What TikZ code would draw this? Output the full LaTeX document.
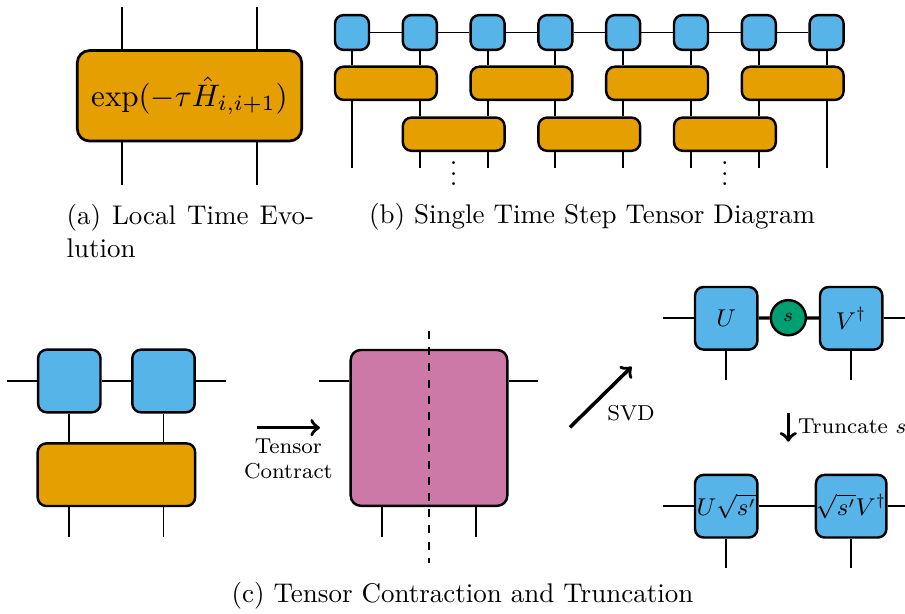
\documentclass[tikz,border=0pt]{standalone}
\usepackage{graphicx}
\usepackage{amsmath}
\definecolor{okorange}{HTML}{E69F00}
\definecolor{okblue}{HTML}{56B4E9}
\definecolor{okgreen}{HTML}{009E73}
\definecolor{okpink}{HTML}{CC79A7}
\begin{document}
\begin{tikzpicture}[x=0.3704pt, y=-0.3704pt,
  leg/.style={line width=0.7pt},
  bond/.style={line width=1.2pt},
  arr/.style={->, line width=1.3pt},
  site/.style={draw, line width=0.9pt, fill=okblue, rounded corners=3.2pt, inner sep=0pt, minimum width=12.6pt, minimum height=12.9pt},
  gate/.style={draw, line width=0.9pt, fill=okorange, rounded corners=3.2pt, inner sep=0pt, minimum width=37.7pt, minimum height=12.3pt},
  bigsite/.style={site, minimum width=23.1pt, minimum height=23.2pt, font=\small},
  lbl/.style={inner sep=0pt}]
\useasboundingbox (0,0) rectangle (905,614);

% (a) two-site gate
\node[draw, line width=1pt, fill=okorange, rounded corners=4.5pt, inner sep=0pt, minimum width=83.1pt, minimum height=33.5pt] (a0) at (189.5,95.8) {\scalebox{1.15}{$\exp(-\tau\hat{H}_{i,i+1})$}};
\coordinate (a1) at (122.3,7);
\coordinate (a2) at (256.7,7);
\coordinate (a3) at (122.3,185);
\coordinate (a4) at (256.7,185);
\draw[line width=0.8pt] (a1) -- (a1 |- a0.north);
\draw[line width=0.8pt] (a2) -- (a2 |- a0.north);
\draw[line width=0.8pt] (a1 |- a0.south) -- (a3);
\draw[line width=0.8pt] (a2 |- a0.south) -- (a4);
\node[lbl, anchor=north west, text width=91.7pt, align=justify] (capa) at (66,204) {(a) Local Time Evo-\linebreak lution};

% (b) one Trotter step on the chain
\node[site] (b1) at (352,32.5){};
\node[site] (b2) at (419.8,32.5){};
\node[site] (b3) at (487.6,32.5){};
\node[site] (b4) at (555.4,32.5){};
\node[site] (b5) at (623.2,32.5){};
\node[site] (b6) at (691,32.5){};
\node[site] (b7) at (758.8,32.5){};
\node[site] (b8) at (826.6,32.5){};
\draw[leg] (b1) -- (b2) -- (b3) -- (b4) -- (b5) -- (b6) -- (b7) -- (b8);
\node[gate] (g1) at (385.9,83.3){};
\node[gate] (g2) at (521.5,83.3){};
\node[gate] (g3) at (657.1,83.3){};
\node[gate] (g4) at (792.7,83.3){};
\node[gate] (h1) at (453.7,134.2){};
\node[gate] (h2) at (589.3,134.2){};
\node[gate] (h3) at (724.9,134.2){};
\coordinate (bfoot) at (0,167.7);
\draw[leg] (b1) -- (b1 |- g1.north);
\draw[leg] (b2) -- (b2 |- g1.north);
\draw[leg] (b3) -- (b3 |- g2.north);
\draw[leg] (b4) -- (b4 |- g2.north);
\draw[leg] (b5) -- (b5 |- g3.north);
\draw[leg] (b6) -- (b6 |- g3.north);
\draw[leg] (b7) -- (b7 |- g4.north);
\draw[leg] (b8) -- (b8 |- g4.north);
\draw[leg] (b2 |- g1.south) -- (b2 |- h1.north);
\draw[leg] (b3 |- g2.south) -- (b3 |- h1.north);
\draw[leg] (b4 |- g2.south) -- (b4 |- h2.north);
\draw[leg] (b5 |- g3.south) -- (b5 |- h2.north);
\draw[leg] (b6 |- g3.south) -- (b6 |- h3.north);
\draw[leg] (b7 |- g4.south) -- (b7 |- h3.north);
\draw[leg] (b1 |- g1.south) -- (b1 |- bfoot);
\draw[leg] (b2 |- h1.south) -- (b2 |- bfoot);
\draw[leg] (b3 |- h1.south) -- (b3 |- bfoot);
\draw[leg] (b4 |- h2.south) -- (b4 |- bfoot);
\draw[leg] (b5 |- h2.south) -- (b5 |- bfoot);
\draw[leg] (b6 |- h3.south) -- (b6 |- bfoot);
\draw[leg] (b7 |- h3.south) -- (b7 |- bfoot);
\draw[leg] (b8 |- g4.south) -- (b8 |- bfoot);
\node[lbl, anchor=base] (dots1) at (453.7,186) {$\vdots$};
\node[lbl, anchor=base] (dots2) at (724.9,186) {$\vdots$};
\node[lbl, anchor=base west] (capb) at (368.5,223.3) {(b) Single Time Step Tensor Diagram};

% (c) contraction of gate and sites
\node[bigsite] (c1) at (69.3,381){};
\node[bigsite] (c2) at (163.5,381){};
\node[gate, minimum width=58.3pt, minimum height=23.2pt] (c3) at (116.4,474.7){};
\coordinate (cl) at (7.3,381);
\coordinate (cr) at (225.7,381);
\coordinate (cfoot) at (0,537);
\draw[leg] (cl) -- (c1) -- (c2) -- (cr);
\draw[leg] (c1) -- (c1 |- c3.north);
\draw[leg] (c2) -- (c2 |- c3.north);
\draw[leg] (c1 |- c3.south) -- (c1 |- cfoot);
\draw[leg] (c2 |- c3.south) -- (c2 |- cfoot);

\coordinate (t0) at (256.7,427.7);
\coordinate (t1) at (320,427.7);
\draw[arr] (t0) -- (t1) node[midway, below, align=center, font=\footnotesize] (tlab) {Tensor\\Contract};

\node[draw, line width=0.9pt, fill=okpink, rounded corners=3.7pt, inner sep=0pt, minimum width=58pt, minimum height=57.7pt] (m) at (429,427.9){};
\coordinate (ml) at (319.3,381);
\coordinate (mr) at (538.3,381);
\coordinate (mf1) at (382,536.7);
\coordinate (mf2) at (476,536.7);
\draw[leg] (ml) -- (ml -| m.west);
\draw[leg] (mr -| m.east) -- (mr);
\draw[leg] (mf1 |- m.south) -- (mf1);
\draw[leg] (mf2 |- m.south) -- (mf2);
\coordinate (cut0) at (428.7,331);
\coordinate (cut1) at (428.7,563);
\draw[leg, dashed] (cut0) -- (cut1);

\coordinate (s0) at (570,427.3);
\coordinate (s1) at (631.7,366.7);
\draw[arr] (s0) -- (s1);
\node[font=\footnotesize] (svdlab) at (631,413) {SVD};

% after the split
\node[bigsite] (u) at (726.2,318.3) {$U$};
\node[circle, draw, line width=0.9pt, fill=okgreen, inner sep=0pt, minimum size=13pt, font=\scriptsize] (sv) at (788.3,317.7) {$s$};
\node[bigsite] (v) at (851.2,318.3) {$V^\dagger$};
\coordinate (ul) at (663.3,318.3);
\coordinate (vr) at (906,318.3);
\coordinate (uf) at (726.2,380);
\coordinate (vf) at (851.2,380);
\draw[leg] (ul) -- (u);
\draw[bond] (u) -- (sv) -- (v);
\draw[leg] (v) -- (vr);
\draw[leg] (u) -- (uf);
\draw[leg] (v) -- (vf);

\coordinate (tr0) at (788.3,413.3);
\coordinate (tr1) at (788.3,441.7);
\draw[arr] (tr0) -- (tr1);
\node[lbl, anchor=base west, font=\footnotesize] (trlab) at (797.5,433.3) {Truncate $s$};

\node[bigsite] (u2) at (726.2,506.2) {$U\sqrt{s'}$};
\node[bigsite] (v2) at (851.2,506.2) {$\sqrt{s'}V^\dagger$};
\coordinate (u2l) at (663.3,506.2);
\coordinate (v2r) at (906,506.2);
\coordinate (u2f) at (726.2,567.7);
\coordinate (v2f) at (851.2,567.7);
\draw[leg] (u2l) -- (u2) -- (v2) -- (v2r);
\draw[leg] (u2) -- (u2f);
\draw[leg] (v2) -- (v2f);

\node[lbl, anchor=base] (capc) at (462.5,602) {(c) Tensor Contraction and Truncation};
\end{tikzpicture}
\end{document}
